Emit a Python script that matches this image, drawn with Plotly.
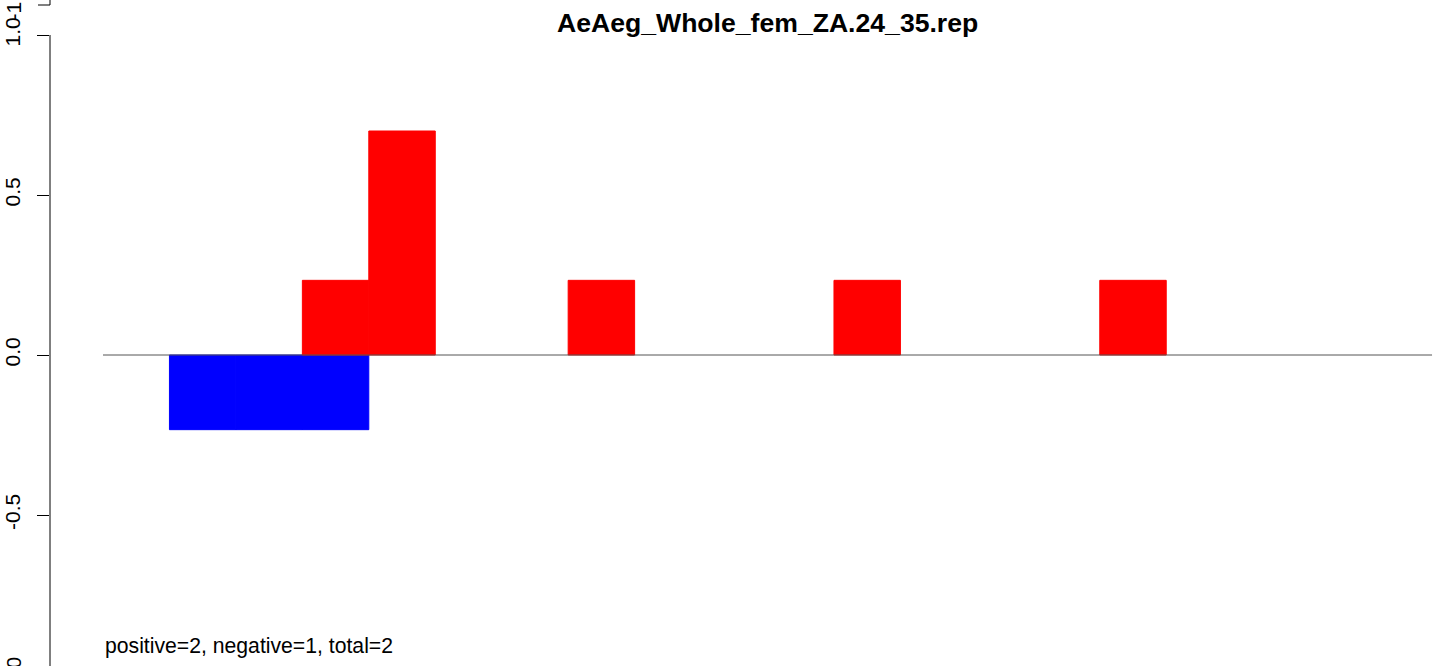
import plotly.graph_objects as go

# ---- data ----
title_text = "AeAeg_Whole_fem_ZA.24_35.rep"
footer_text = "positive=2, negative=1, total=2"

pos_bins = [3, 4, 7, 11, 15]
pos_vals = [0.2333, 0.7, 0.2333, 0.2333, 0.2333]
neg_bins = [1, 2, 3]
neg_vals = [-0.2333, -0.2333, -0.2333]

baseline_x = [0, 20]
baseline_y = [0, 0]

y_tickvals = [-0.5, 0.0, 0.5, 1.0]
y_ticktext = ["-0.5", "0.0", "0.5", "1.0"]

W, H = 1444, 666
L = 50
FONT = "Liberation Sans, Arial, Helvetica, sans-serif"

fig = go.Figure()
fig.add_trace(go.Scatter(x=baseline_x, y=baseline_y, mode="lines",
                         line=dict(color="#555555", width=1), hoverinfo="skip"))
fig.add_trace(go.Bar(x=neg_bins, y=neg_vals, width=1, offset=0,
                     marker=dict(color="#0000FF", line=dict(width=1, color="#0000FF"))))
fig.add_trace(go.Bar(x=pos_bins, y=pos_vals, width=1, offset=0,
                     marker=dict(color="#FF0000", line=dict(width=1, color="#FF0000"))))

plot_w = W - L
tick_px = 12
lab_x = (13 - L) / plot_w

shapes = [
    # main y axis line from -1 to 1
    dict(type="line", xref="paper", yref="y", x0=0, x1=0, y0=-1.0, y1=1.0,
         line=dict(color="black", width=1)),
    # remnant of panel above
    dict(type="line", xref="paper", yref="y", x0=0, x1=0, y0=1.09375, y1=1.2,
         line=dict(color="black", width=1)),
    dict(type="line", xref="paper", yref="y", x0=-tick_px / plot_w, x1=0,
         y0=1.09375, y1=1.09375, line=dict(color="black", width=1)),
]

annotations = [
    dict(text="<b>" + title_text + "</b>", xref="x", yref="paper", x=10, y=1 - 23 / H,
         xanchor="center", yanchor="middle", showarrow=False,
         font=dict(family=FONT, size=26.6, color="black")),
    dict(text=footer_text, xref="x", yref="y", x=0, y=-0.909,
         xanchor="left", yanchor="middle", showarrow=False,
         font=dict(family=FONT, size=21.2, color="black")),
    dict(text="-1.0", xref="paper", yref="paper", x=lab_x, y=1 - 675 / H, textangle=-90,
         xanchor="center", yanchor="middle", showarrow=False,
         font=dict(family=FONT, size=21, color="black")),
    dict(text="-1.0", xref="paper", yref="paper", x=lab_x, y=1 - 2.5 / H, textangle=-90,
         xanchor="center", yanchor="middle", showarrow=False,
         font=dict(family=FONT, size=21, color="black")),
]

fig.update_layout(
    width=W, height=H,
    margin=dict(l=L, r=0, t=0, b=0, pad=0, autoexpand=False),
    paper_bgcolor="white", plot_bgcolor="white",
    showlegend=False, barmode="overlay",
    xaxis=dict(visible=False, range=[-0.7976, 20.18], automargin=False),
    yaxis=dict(range=[-0.971875, 1.109375], showgrid=False, zeroline=False,
               showline=False, ticks="outside", ticklen=tick_px, tickwidth=1,
               tickcolor="black", tickvals=y_tickvals, ticktext=y_ticktext,
               tickangle=-90, ticklabelstandoff=9, automargin=False,
               tickfont=dict(family=FONT, size=21, color="black")),
    shapes=shapes, annotations=annotations,
)

fig.write_html("out.html", config={"displayModeBar": False},
               post_script="document.body.style.margin='0';document.body.style.overflow='hidden';")
